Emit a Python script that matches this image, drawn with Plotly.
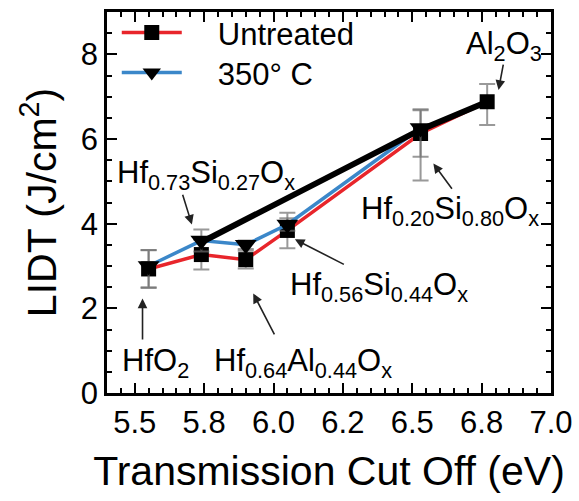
import plotly.graph_objects as go

# Transmission cut-off energy (eV) for each film composition
cutoff_all = [5.55, 5.74, 5.90, 6.05, 6.53, 6.77]
cutoff_treated = [5.55, 5.74, 5.90, 6.05, 6.53]

# Laser-induced damage threshold (J/cm^2)
lidt_untreated = [2.93, 3.27, 3.15, 3.84, 6.13, 6.88]
err_untreated_plus = [0.45, 0.35, 0.21, 0.42, 0.55, 0.42]
err_untreated_minus = [0.45, 0.35, 0.21, 0.42, 0.55, 0.55]

lidt_350c = [3.00, 3.60, 3.50, 3.98, 6.26]
err_350c_plus = [0.37, 0.26, 0.10, 0.15, 0.44]
err_350c_minus = [0.50, 0.26, 0.10, 0.15, 1.24]

# Trend line through the silicate / alumina series
trend_x = [5.74, 6.53, 6.77]
trend_y = [3.56, 6.22, 6.88]

x_tickvals = [5.5, 5.75, 6.0, 6.25, 6.5, 6.75, 7.0]
x_ticktext = ["5.5", "5.8", "6.0", "6.2", "6.5", "6.8", "7.0"]

# Composition labels: (text, text x, text y, arrow tip x, tip y, tail x, tail y)
labels = [
    ("Al<sub>2</sub>O<sub>3</sub>", 6.83, 8.2, 6.811, 7.16, 6.829, 7.79),
    ("Hf<sub>0.20</sub>Si<sub>0.80</sub>O<sub>x</sub>", 6.635, 4.3, 6.576, 5.42, 6.647, 4.79),
    ("Hf<sub>0.56</sub>Si<sub>0.44</sub>O<sub>x</sub>", 6.38, 2.5, 6.077, 3.63, 6.259, 3.02),
    ("Hf<sub>0.64</sub>Al<sub>0.44</sub>O<sub>x</sub>", 6.105, 0.72, 5.927, 2.35, 6.006, 1.35),
    ("HfO<sub>2</sub>", 5.575, 0.72, 5.528, 2.23, 5.528, 1.23),
    ("Hf<sub>0.73</sub>Si<sub>0.27</sub>O<sub>x</sub>", 5.755, 5.15, 5.706, 3.98, 5.671, 4.72),
]

FONT = "Liberation Sans, Arial, sans-serif"
ERR_COLOR = "rgba(110,110,110,0.7)"
PAD = "\u2002\u2002"  # gap between legend key and its label

fig = go.Figure()

fig.add_trace(go.Scatter(
    x=cutoff_all, y=lidt_untreated, name=PAD + "Untreated", legend="legend",
    mode="lines+markers",
    line=dict(color="#e8252b", width=3.5),
    marker=dict(symbol="square", size=15, color="black"),
    error_y=dict(type="data", symmetric=False, array=err_untreated_plus,
                 arrayminus=err_untreated_minus, color=ERR_COLOR,
                 thickness=2, width=8),
))

fig.add_trace(go.Scatter(
    x=cutoff_treated, y=lidt_350c, name=PAD + "350\u00b0 C", legend="legend2",
    mode="lines+markers",
    line=dict(color="#3b87c9", width=3.5),
    marker=dict(symbol="triangle-down", size=19, color="black"),
    error_y=dict(type="data", symmetric=False, array=err_350c_plus,
                 arrayminus=err_350c_minus, color=ERR_COLOR,
                 thickness=2, width=8),
))

fig.add_trace(go.Scatter(
    x=trend_x, y=trend_y, mode="lines", showlegend=False,
    line=dict(color="black", width=6),
    hoverinfo="skip",
))

for text, tx, ty, hx, hy, sx, sy in labels:
    fig.add_annotation(
        x=hx, y=hy, ax=sx, ay=sy, xref="x", yref="y", axref="x", ayref="y",
        text="", showarrow=True, arrowhead=2, arrowsize=1.2, arrowwidth=1.6,
        arrowcolor="#222222",
    )
    fig.add_annotation(
        x=tx, y=ty, xref="x", yref="y", text=text, showarrow=False,
        xanchor="center", yanchor="middle",
        font=dict(family=FONT, size=31, color="black"),
    )

axis_common = dict(
    showline=True, linecolor="black", linewidth=2.5, mirror="allticks",
    ticks="inside", ticklen=10, tickwidth=2, tickcolor="black",
    showgrid=False, zeroline=False,
    tickfont=dict(family=FONT, size=31, color="black"),
)

fig.update_xaxes(
    **axis_common,
    range=[5.4, 7.0],
    tickmode="array", tickvals=x_tickvals, ticktext=x_ticktext,
    minor=dict(ticks="inside", ticklen=5, tickwidth=1.5, tickcolor="black",
               tickmode="linear", tick0=5.4, dtick=0.05, showgrid=False),
    title=dict(text="Transmission Cut Off (eV)", standoff=18,
               font=dict(family=FONT, size=41, color="black")),
)

fig.update_yaxes(
    **axis_common,
    range=[0, 9],
    tickmode="linear", tick0=0, dtick=2,
    minor=dict(ticks="inside", ticklen=5, tickwidth=1.5, tickcolor="black",
               tickmode="linear", tick0=0, dtick=0.5, showgrid=False),
    title=dict(text="LIDT (J/cm<sup>2</sup>)", standoff=12,
               font=dict(family=FONT, size=41, color="black")),
)

legend_style = dict(x=0.022, xanchor="left", yanchor="middle",
                    bgcolor="rgba(0,0,0,0)", font=dict(family=FONT, size=31),
                    itemwidth=60)

fig.update_layout(
    width=579, height=501,
    margin=dict(l=107, r=23, t=6, b=108),
    paper_bgcolor="white", plot_bgcolor="white",
    font=dict(family=FONT, color="black"),
    showlegend=True,
    legend=dict(y=0.945, **legend_style),
    legend2=dict(y=0.84, **legend_style),
)

fig.write_html("out.html")
